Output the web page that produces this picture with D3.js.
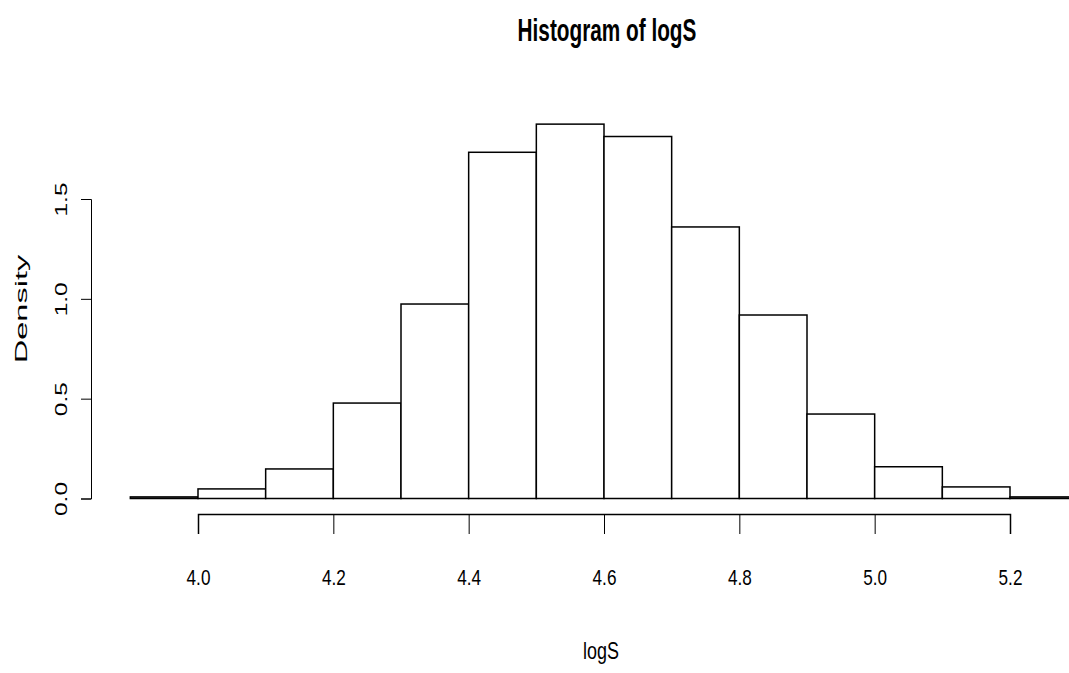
<!DOCTYPE html>
<html lang="en">
    <head>
        <meta charset="utf-8">
        <title>Histogram of logS</title>
        <script src="https://d3js.org/d3.v7.min.js"></script>
        <style type="text/css">
            body { margin: 0; background: white; }
            text {
                font-family: "Liberation Sans", Arial, sans-serif;
                fill: black;
            }
            .title {
                font-weight: bold;
                font-size: 31px;
            }
            .xaxis text { font-size: 22px; }
            .xlab { font-size: 23px; }
            .yaxis text, .ylab { font-size: 16.3px; }
            .axis path, .axis line {
                stroke: black;
            }
            .bar {
                fill: white;
                stroke: black;
                stroke-width: 1.5px;
            }
        </style>
    </head>
    <body>
        <script type="text/javascript">
            const w = 1069;
            const h = 673;

            // histogram data (bin breaks and densities)
            const breaks = [3.9, 4.0, 4.1, 4.2, 4.3, 4.4, 4.5, 4.6, 4.7, 4.8, 4.9, 5.0, 5.1, 5.2, 5.3];
            const density = [0.008, 0.048, 0.148, 0.478, 0.974, 1.734, 1.875, 1.813, 1.36, 0.919, 0.423, 0.159, 0.058, 0.008];
            const xTicks = [4.0, 4.2, 4.4, 4.6, 4.8, 5.0, 5.2];
            const yTicks = [0.0, 0.5, 1.0, 1.5];

            const bins = density.map((d, i) => ({x0: breaks[i], x1: breaks[i + 1], d: d}));

            const xScale = d3.scaleLinear()
                             .domain([4.0, 5.2])
                             .range([198, 1010]);

            const yScale = d3.scaleLinear()
                             .domain([0, 1.5])
                             .range([498.5, 199]);

            const svg = d3.select("body").append("svg")
                          .attr("width", w)
                          .attr("height", h);

            // bars
            svg.selectAll(".bar")
               .data(bins)
               .join("rect")
               .attr("class", "bar")
               .attr("x", d => xScale(d.x0))
               .attr("width", d => xScale(d.x1) - xScale(d.x0))
               .attr("y", d => yScale(d.d))
               .attr("height", d => yScale(0) - yScale(d.d));

            // bottom axis
            const bottomAxis = d3.axisBottom(xScale)
                                 .tickValues(xTicks)
                                 .tickFormat(d3.format(".1f"))
                                 .tickSizeOuter(0)
                                 .tickSize(20);

            const gx = svg.append("g")
               .attr("class", "axis xaxis")
               .attr("transform", "translate(0, 514)")
               .call(bottomAxis);
            gx.select(".domain").attr("stroke-width", 1.5);
            // narrow labels, baseline at y=585
            gx.selectAll(".tick text")
              .attr("y", 0)
              .attr("dy", 0)
              .attr("transform", "translate(0, 71) scale(0.78, 1)");

            // left axis
            const leftAxis = d3.axisLeft(yScale)
                               .tickValues(yTicks)
                               .tickFormat(d3.format(".1f"))
                               .tickSizeOuter(0)
                               .tickSize(10);

            const gy = svg.append("g")
               .attr("class", "axis yaxis")
               .attr("transform", "translate(91, 0)")
               .call(leftAxis);

            gy.selectAll(".tick text")
              .attr("x", 0)
              .attr("dy", 0)
              .attr("text-anchor", "middle")
              .attr("transform", "translate(-24.3, 0) rotate(-90) scale(1.5, 1)");

            // titles
            svg.append("text")
               .attr("class", "title")
               .attr("text-anchor", "middle")
               .attr("transform", "translate(607, 40.7) scale(0.67, 1)")
               .text("Histogram of logS");

            svg.append("text")
               .attr("class", "xlab")
               .attr("text-anchor", "middle")
               .attr("transform", "translate(601, 659) scale(0.78, 1)")
               .text("logS");

            svg.append("text")
               .attr("class", "ylab")
               .attr("text-anchor", "middle")
               .attr("transform", "translate(26.7, 309) rotate(-90) scale(2.0, 1)")
               .text("Density");
        </script>
    </body>
</html>
